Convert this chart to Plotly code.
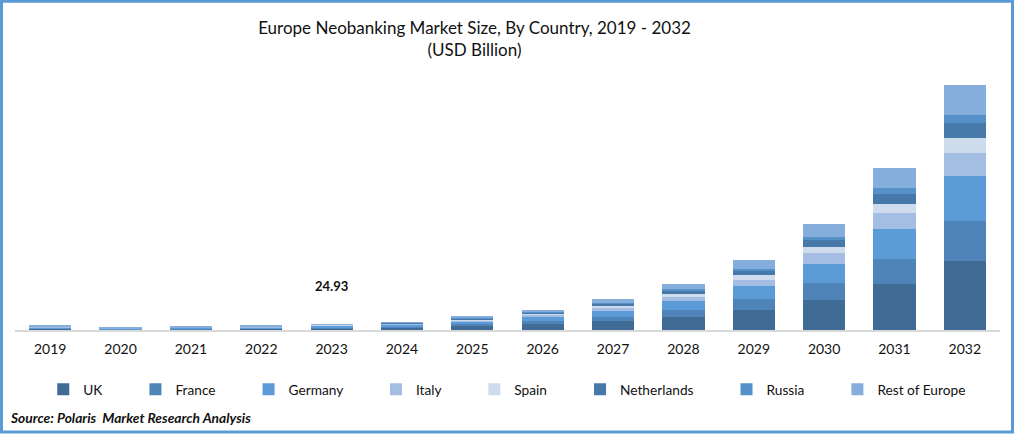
import plotly.graph_objects as go

years = ["2019", "2020", "2021", "2022", "2023", "2024", "2025", "2026", "2027", "2028", "2029", "2030", "2031", "2032"]

# USD Billion
uk = [5.0, 2.5, 3.7, 5.0, 7.5, 10.0, 16.6, 24.9, 37.4, 54.0, 83.1, 124.7, 191.1, 286.7]
france = [2.8, 1.4, 2.1, 2.8, 4.2, 5.4, 8.3, 12.5, 16.6, 29.1, 45.7, 70.6, 103.9, 166.2]
germany = [3.3, 1.7, 2.5, 3.3, 5.0, 6.6, 10.4, 16.6, 24.9, 37.4, 54.0, 78.9, 124.7, 187.0]
italy = [1.7, 0.8, 1.2, 1.7, 2.5, 3.3, 5.4, 8.3, 12.5, 16.6, 24.9, 45.7, 66.5, 95.6]
spain = [1.2, 0.6, 0.9, 1.2, 1.7, 2.5, 4.2, 6.2, 8.3, 12.5, 20.8, 24.9, 37.4, 62.3]
netherlands = [1.2, 0.6, 0.9, 1.2, 1.7, 2.1, 3.3, 5.4, 11.2, 12.5, 17.9, 29.1, 41.6, 62.3]
russia = [0.6, 0.3, 0.4, 0.6, 0.8, 0.8, 1.7, 2.1, 2.9, 8.3, 7.1, 12.5, 24.9, 33.2]
rest = [1.2, 0.6, 0.9, 1.2, 1.5, 2.5, 4.2, 7.1, 15.0, 20.8, 37.4, 54.0, 83.1, 124.7]

series_names = ["UK", "France", "Germany", "Italy", "Spain", "Netherlands", "Russia", "Rest of Europe"]
series_values = [uk, france, germany, italy, spain, netherlands, russia, rest]
series_colors = ["#3f6b94", "#4f84b8", "#5b9bd7", "#a3bde3", "#cfdcee", "#4679a9", "#5591c8", "#86aedd"]

label_year = "2023"
label_value = 24.93

font_name = "Lato"
# the legend entries sit further apart than plotly spaces them
legend_pad = "\u00a0" * 8

fig = go.Figure()
for name, vals, col in zip(series_names, series_values, series_colors):
    fig.add_trace(go.Bar(x=years, y=vals, name=name + legend_pad, marker=dict(color=col, line=dict(width=0))))

# category axis takes the index here, a year string would be read as a number
fig.add_annotation(x=years.index(label_year), y=label_value, text="<b>24.93</b>", showarrow=False,
                   yshift=38, font=dict(family=font_name, size=13, color="#111111"))
fig.add_annotation(xref="paper", yref="paper", x=-0.007, y=-0.325, xanchor="left", yanchor="middle",
                   text="<b><i>Source: Polaris  Market Research Analysis</i></b>", showarrow=False,
                   font=dict(family=font_name, size=13.8, color="#111111"))

# blue frame around the picture
fig.add_shape(type="rect", xref="paper", yref="paper", x0=-0.0137, x1=1.0127, y0=-0.378, y1=1.218,
              line=dict(color="#5b9bd5", width=3), fillcolor="rgba(0,0,0,0)")

fig.update_layout(
    width=1014,
    height=435,
    barmode="stack",
    bargap=0.4,
    paper_bgcolor="white",
    plot_bgcolor="white",
    margin=dict(l=15, r=14, t=60, b=105),
    font=dict(family=font_name, size=14, color="#111111"),
    title=dict(text="Europe Neobanking Market Size, By Country, 2019 - 2032<br>(USD Billion)",
               x=0.468, xanchor="center", y=0.922, yanchor="top", font=dict(family=font_name, size=17, color="#111111")),
    xaxis=dict(type="category", range=[-0.5, 13.5], showgrid=False, showline=True, linecolor="#d9d9d9", linewidth=2,
               ticks="", ticklabelstandoff=5, tickfont=dict(family=font_name, size=14)),
    yaxis=dict(visible=False, range=[0, 1120]),
    legend=dict(orientation="h", x=0.0287, y=-0.1626, xanchor="left", yanchor="top", traceorder="normal",
                font=dict(family=font_name, size=13.7)),
)

fig.write_html("out.html", config={"displayModeBar": False}, post_script="document.body.style.margin='0';")
